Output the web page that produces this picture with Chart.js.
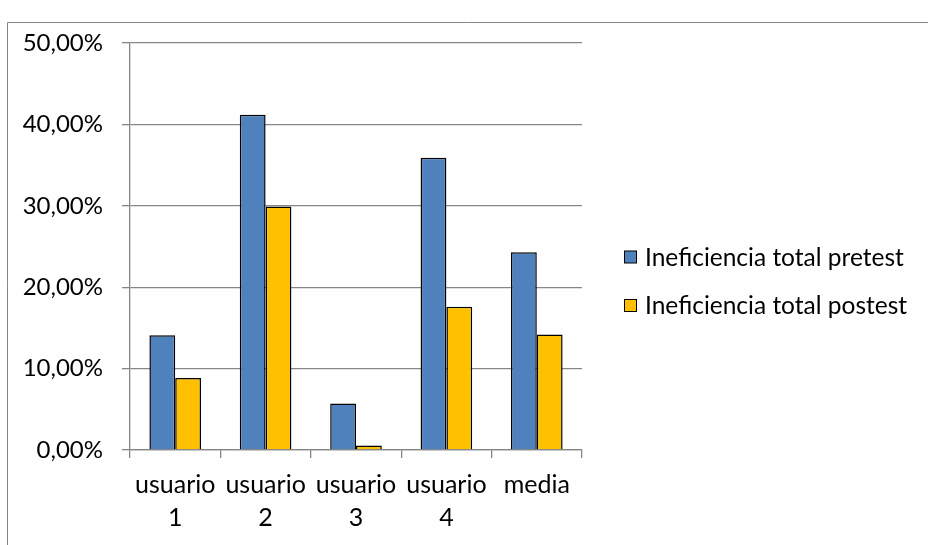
<!DOCTYPE html>
<html>
<head>
<meta charset="utf-8">
<script src="https://cdn.jsdelivr.net/npm/chart.js@4/dist/chart.umd.min.js"></script>
<style>
    body{ margin:0; background:#fff; }
    canvas{ display:block; }
</style>
</head>
<body>
<canvas id="grafico" width="928" height="545"></canvas>
<script>
// datos (en %)
const categorias = [['usuario', '1'], ['usuario', '2'], ['usuario', '3'], ['usuario', '4'], 'media'];
const series = ['Ineficiencia total pretest', 'Ineficiencia total postest'];
const pretest = [14.1, 41.2, 5.7, 35.9, 24.3];
const postest = [8.85, 29.9, 0.55, 17.6, 14.2];
const ejeY = { min: 0, max: 50, paso: 10 };

const gris = '#868686';
const fuente = 'Lato';

Chart.defaults.font.family = fuente;
Chart.defaults.color = '#000';

// marco exterior y leyenda dibujados a mano
const marcoYLeyenda = {
    id: 'marcoYLeyenda',
    afterDraw(chart){
        const ctx = chart.ctx;
        ctx.save();
        ctx.strokeStyle = gris;
        ctx.lineWidth = 1;
        ctx.beginPath();
        ctx.moveTo(7.5, 545);
        ctx.lineTo(7.5, 22.5);
        ctx.lineTo(928, 22.5);
        ctx.stroke();

        ctx.font = '24.5px ' + fuente;
        ctx.textBaseline = 'middle';
        chart.data.datasets.forEach((ds, i) => {
            const y = 257 + i * 48.5;
            ctx.fillStyle = ds.backgroundColor;
            ctx.fillRect(624.5, y - 6, 12, 12);
            ctx.strokeStyle = '#000';
            ctx.lineWidth = 1;
            ctx.strokeRect(624.5, y - 6, 12, 12);
            ctx.fillStyle = '#000';
            ctx.fillText(ds.label, 645, y + 1);
        });
        ctx.restore();
    }
};

const pct = v => v.toFixed(2).replace('.', ',') + '%';

new Chart(document.getElementById('grafico'), {
    type: 'bar',
    data: {
        labels: categorias,
        datasets: [
            {
                label: series[0],
                data: pretest,
                backgroundColor: '#4F81BD',
                borderColor: '#000',
                borderWidth: 1.5,
                categoryPercentage: 0.571,
                barPercentage: 1
            },
            {
                label: series[1],
                data: postest,
                backgroundColor: '#FFC000',
                borderColor: '#000',
                borderWidth: 1.5,
                categoryPercentage: 0.571,
                barPercentage: 1
            }
        ]
    },
    options: {
        responsive: false,
        animation: false,
        layout: {
            padding: { top: 43, right: 346, bottom: 0, left: 0 }
        },
        plugins: {
            legend: { display: false },
            tooltip: { enabled: false }
        },
        scales: {
            x: {
                afterFit(scale){ scale.height = 95; },
                grid: {
                    drawOnChartArea: false,
                    drawTicks: true,
                    tickLength: 8,
                    color: gris,
                    lineWidth: 1.3
                },
                border: { color: gris, width: 1.3 },
                ticks: {
                    padding: 10,
                    maxRotation: 0,
                    autoSkip: false,
                    font: { size: 25, lineHeight: 1.32 }
                }
            },
            y: {
                min: ejeY.min,
                max: ejeY.max,
                afterFit(scale){ scale.width = 130; },
                grid: {
                    color: gris,
                    lineWidth: 1.3,
                    drawTicks: true,
                    tickLength: 8
                },
                border: { color: gris, width: 1.3 },
                ticks: {
                    stepSize: ejeY.paso,
                    padding: 19,
                    font: { size: 24 },
                    callback: v => pct(v)
                }
            }
        }
    },
    plugins: [marcoYLeyenda]
});
</script>
</body>
</html>
